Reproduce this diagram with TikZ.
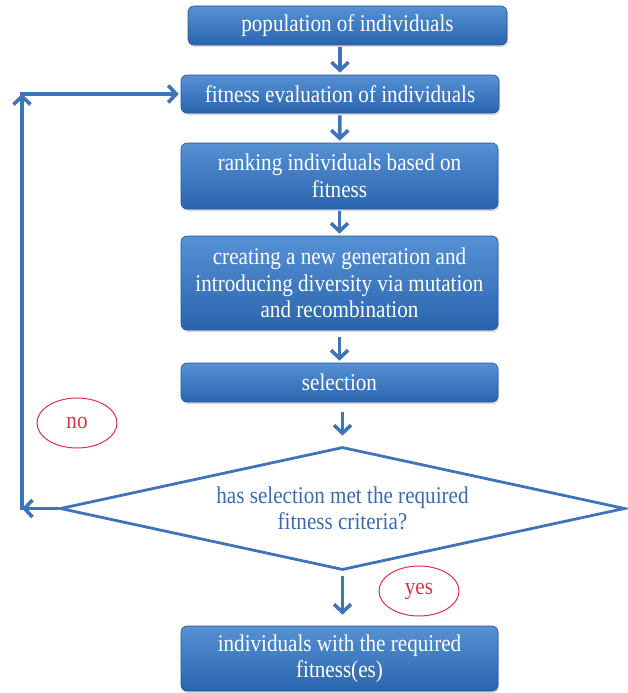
\documentclass[tikz,border=0pt]{standalone}
\usepackage{fontspec}
\setmainfont{Liberation Serif}[FakeStretch=0.88]
\usetikzlibrary{arrows.meta,shapes.geometric,shadows}
\definecolor{flowblue}{RGB}{63,116,184}
\definecolor{boxtop}{RGB}{86,145,212}
\definecolor{boxbottom}{RGB}{42,100,174}
\definecolor{boxedge}{RGB}{40,88,150}
\definecolor{tagred}{RGB}{214,52,64}
\definecolor{asktext}{RGB}{59,107,170}
\tikzset{%
  flow box/.style={
    rectangle, rounded corners=6pt, draw=boxedge, line width=0.6pt,
    top color=boxtop, bottom color=boxbottom, text=white,
    minimum width=317pt, align=center, inner sep=0pt,
    drop shadow={opacity=0.3, shadow xshift=1pt, shadow yshift=-2pt}
  },
  flow arrow/.style={
    draw=flowblue, line width=3.6pt,
    -{Straight Barb[length=8pt,width=17pt]},
    shorten <=2pt, shorten >=2pt
  },
  answer tag/.style={
    ellipse, draw=tagred, line width=1pt, text=tagred,
    minimum width=80pt, minimum height=50pt, inner sep=0pt
  }
}

\begin{document}
\begin{tikzpicture}[x=1pt, y=-1pt, font=\fontsize{24}{26.5}\selectfont]
		\useasboundingbox (0,0) rectangle (628,693);
		\node [flow box, minimum width=319pt, minimum height=39pt] (pop) at (347.5,25.5) {population of individuals};
		\node [flow box, minimum width=318pt, minimum height=38pt] (fit) at (340,94) {fitness evaluation of individuals};
		\node [flow box, minimum height=66pt] (rank) at (339.5,176) {ranking individuals based on\\fitness};
		\node [flow box, minimum height=94pt] (gen) at (339.5,283) {creating a new generation and\\introducing diversity via mutation\\and recombination};
		\node [flow box, minimum height=39pt] (sel) at (339.5,382.5) {selection};
		\node [diamond, draw=flowblue, line width=2.8pt, aspect=4.6, minimum width=565pt, minimum height=123pt,
		  inner sep=0pt, text=asktext, align=center] (check) at (342.5,508.5) {has selection met the required\\fitness criteria?};
		\node [flow box, minimum height=65pt] (done) at (339.5,658.5) {individuals with the required\\fitness(es)};
		\node [answer tag] (no) at (77,423) {no};
		\node [answer tag] (yes) at (419,591) {yes};
		\coordinate (back low) at (22,508.5);
		\coordinate (back high) at (22,94);
		\draw [flow arrow] (pop.south -| fit) -- (fit);
		\draw [flow arrow] (fit) -- (rank);
		\draw [flow arrow] (rank) -- (gen);
		\draw [flow arrow, shorten <=7pt] (gen) -- (sel);
		\draw [flow arrow, shorten <=10pt, shorten >=10pt] (sel.south -| check) -- (check);
		\draw [flow arrow, shorten <=5pt, shorten >=11pt] (check) -- (check |- done.north);
		\draw [flow arrow, shorten <=0pt, shorten >=0pt] (check.west) -- (back low);
		\draw [flow arrow, shorten <=-1.8pt, shorten >=0pt] (back low) -- (back high);
		\draw [flow arrow, shorten <=-1.8pt] (back high) -- (fit.west);
	\end{tikzpicture}
\end{document}
